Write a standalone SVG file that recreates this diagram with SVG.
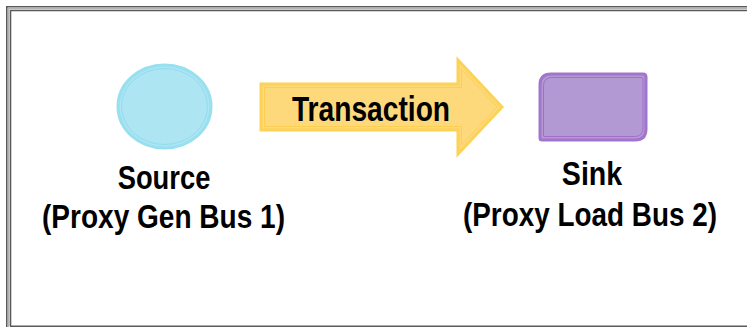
<svg xmlns="http://www.w3.org/2000/svg" width="747" height="327" viewBox="0 0 747 327">
  <style>
    .frame { fill: none; stroke: #5a5a5a; stroke-width: 1.6; }
    .frame-mid { fill: none; stroke: #b4b4b4; stroke-width: 1.4; }
    .label { font-family: "Liberation Sans Narrow", "Liberation Sans", Arial, sans-serif; font-weight: bold; font-size: 34px; fill: #000; text-anchor: middle; }
  </style>
  <rect width="747" height="327" fill="#ffffff"/>

  <!-- double-line page frame -->
  <g id="frame">
    <path class="frame" d="M6.8,327 V6.8 H747"/>
    <path class="frame-mid" d="M8.5,327 V8.5 H747"/>
    <path class="frame" d="M10.5,326 V10.5 H747"/>
    <path class="frame" d="M10,326.2 H747"/>
  </g>

  <!-- source node -->
  <g id="source">
    <ellipse cx="164.5" cy="106.5" rx="46.5" ry="41.5" fill="#ade5f3" stroke="#98dff0" stroke-width="3"/>
    <ellipse cx="164.5" cy="106.5" rx="43" ry="38" fill="none" stroke="#8ad8ec" stroke-width="0.8"/>
    <text class="label" transform="translate(164,189) scale(0.85,1)" textLength="109" lengthAdjust="spacingAndGlyphs">Source</text>
    <text class="label" transform="translate(163.5,228) scale(0.85,1)" textLength="286" lengthAdjust="spacingAndGlyphs">(Proxy Gen Bus 1)</text>
  </g>

  <!-- sink node -->
  <g id="sink">
    <path d="M551,74 H643 Q646,74 646,77 V129 Q646,140 635,140 H542 Q540,140 540,138 V85 Q540,74 551,74 Z" fill="#b399d4" stroke="#a374cc" stroke-width="3"/>
    <path d="M552,77.5 H642 Q643,77.5 643,79 V128 Q643,136.5 634.5,136.5 H544 Q543.5,136.5 543.5,135 V86 Q543.5,77.5 552,77.5 Z" fill="none" stroke="#9a66c7" stroke-width="0.8"/>
    <text class="label" transform="translate(592,185) scale(0.85,1)" textLength="71" lengthAdjust="spacingAndGlyphs">Sink</text>
    <text class="label" transform="translate(590,226) scale(0.85,1)" textLength="299" lengthAdjust="spacingAndGlyphs">(Proxy Load Bus 2)</text>
  </g>

  <!-- transaction arrow -->
  <g id="connectors">
    <g id="transaction">
      <path d="M261,84 H458 V60 L502,107 L458,154 V130 H261 Z" fill="#fdd97c" stroke="#fcd257" stroke-width="3" stroke-linejoin="miter"/>
      <path d="M264.5,87.5 H461.5 V69 L497,107 L461.5,145 V126.5 H264.5 Z" fill="none" stroke="#fbcd4a" stroke-width="0.8"/>
      <text class="label" transform="translate(371,121) scale(0.85,1)" style="font-size:35px" textLength="186" lengthAdjust="spacingAndGlyphs">Transaction</text>
    </g>
  </g>
</svg>
